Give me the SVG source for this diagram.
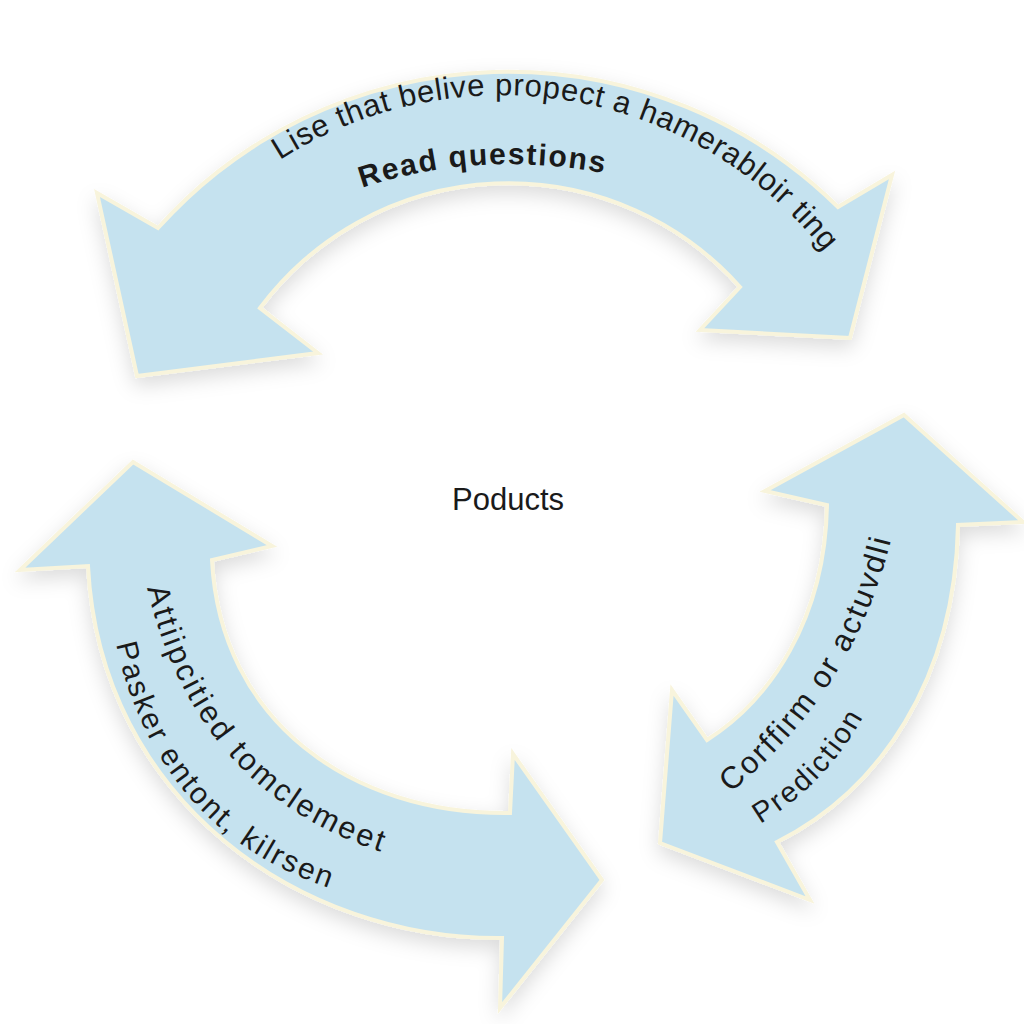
<svg xmlns="http://www.w3.org/2000/svg" xmlns:xlink="http://www.w3.org/1999/xlink" width="1024" height="1024" viewBox="0 0 1024 1024">
<style>
.arrow{fill:#c5e2ef;stroke:#f8f4dc;stroke-width:4;stroke-linejoin:miter;filter:url(#shadow)}
.lbl{font-family:"Liberation Sans","Open Sans",sans-serif;fill:#1a1a1a}
.bold{font-weight:bold}
</style>
<defs>
<filter id="shadow" x="-20%" y="-20%" width="140%" height="140%">
<feDropShadow dx="0" dy="8" stdDeviation="10" flood-color="#000" flood-opacity="0.14"/>
</filter>
<path id="tp1" d="M280,160 A411,411 0 0 1 832,262"/>
<path id="tp2" d="M362,188 Q480,148 614,175"/>
<path id="tp3" d="M147,588 Q197,798 394,856"/>
<path id="tp4" d="M116,644 Q160,842 352,895"/>
<path id="tp5" d="M730,793 Q858,688 893,531"/>
<path id="tp6" d="M760,824 Q830,782 868,708"/>
</defs>
<rect width="1024" height="1024" fill="#ffffff"/>
<g id="connectors">
<g id="arrow-top">
<path class="arrow" d="M97,193 L158,228 A470,470 0 0 1 838,207 L892,175 L850,338 L700,330 L740,287 A310,310 0 0 0 260,308 L318,353 L137,376 Z"/>
<text class="lbl" font-size="31"><textPath href="#tp1" textLength="605" lengthAdjust="spacing">Lise that belive propect a hamerabloir ting</textPath></text>
<text class="lbl bold" font-size="30"><textPath href="#tp2" textLength="245" lengthAdjust="spacing">Read questions</textPath></text>
</g>
<g id="arrow-left">
<path class="arrow" d="M133,462 L272,546 L212,560 C220,720 350,815 510,813 L513,754 L602,880 L500,1008 L502,938 C300,940 100,800 88,566 L20,570 Z"/>
<text class="lbl" font-size="31"><textPath href="#tp3" textLength="370" lengthAdjust="spacing">Attiipcitied tomclemeet</textPath></text>
<text class="lbl" font-size="30"><textPath href="#tp4" textLength="340" lengthAdjust="spacing">Pasker entont, kilrsen</textPath></text>
</g>
<g id="arrow-right">
<path class="arrow" d="M904,415 L1023,522 L958,525 C955,680 880,790 777,842 L810,900 L660,843 L672,690 L707,740 C770,700 825,620 827,505 L765,491 Z"/>
<text class="lbl" font-size="31"><textPath href="#tp5" textLength="305" lengthAdjust="spacing">Corffirm or actuvdli</textPath></text>
<text class="lbl" font-size="29"><textPath href="#tp6" textLength="150" lengthAdjust="spacing">Prediction</textPath></text>
</g>
</g>
<g id="node-center">
<text class="lbl" x="508" y="510" font-size="31" text-anchor="middle">Poducts</text>
</g>
</svg>
